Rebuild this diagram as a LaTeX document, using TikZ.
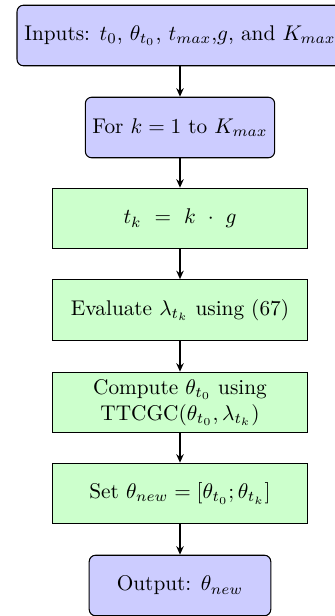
\documentclass[tikz,border=0pt]{standalone}
\usetikzlibrary{arrows.meta}
\definecolor{bluebox}{RGB}{204,204,255}
\definecolor{greenbox}{RGB}{204,255,204}
\begin{document}
\begin{tikzpicture}[x=0.47pt,y=-0.47pt,
  io/.style={draw, rounded corners=3pt, fill=bluebox, minimum height=1cm, align=center, line width=0.5pt},
  proc/.style={draw, fill=greenbox, minimum height=1cm, minimum width=4.2cm, align=center, line width=0.5pt},
  flow/.style={-{Stealth[length=4pt,width=3.5pt]}, line width=0.8pt}]
\useasboundingbox (0,0) rectangle (335,616);
\node[io, minimum width=153.2pt] (in) at (180,35.5) {Inputs: $t_0$, $\theta_{t_0}$, $t_{max}$,$g$, and $K_{max}$};
\node[io] (for) at (180,127.5) {For $k=1$ to $K_{max}$};
\node[proc] (tk) at (180,218.5) {$t_k ~=~ k ~\cdot~ g$};
\node[proc] (ev) at (180,310) {Evaluate $\lambda_{t_k}$ using (67)};
\node[proc] (cp) at (180,402.5) {Compute $\theta_{t_0}$ using\\TTCGC($\theta_{t_0}, \lambda_{t_k}$)};
\node[proc] (set) at (180,493.5) {Set $\theta_{new} = [\theta_{t_0};\theta_{t_k}]$};
\node[io, minimum width=3cm] (out) at (180,585.5) {Output: $\theta_{new}$};
\draw[flow] (in) -- (for);
\draw[flow] (for) -- (tk);
\draw[flow] (tk) -- (ev);
\draw[flow] (ev) -- (cp);
\draw[flow] (cp) -- (set);
\draw[flow] (set) -- (out);
\end{tikzpicture}
\end{document}
